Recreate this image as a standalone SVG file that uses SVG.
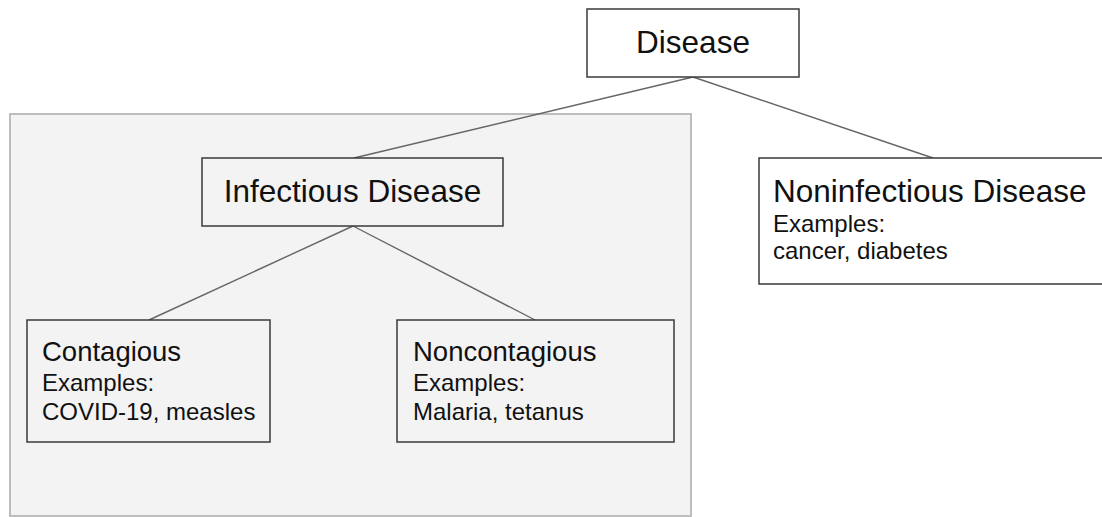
<svg xmlns="http://www.w3.org/2000/svg" width="1102" height="517" viewBox="0 0 1102 517">
<style>
.box{fill:none;stroke:#3a3a3a;stroke-width:1.5}
.wbox{fill:#ffffff;stroke:#3a3a3a;stroke-width:1.5}
.gbox{fill:#f3f3f3;stroke:#3a3a3a;stroke-width:1.5}
.conn{stroke:#666666;stroke-width:1.4;fill:none}
text{font-family:"Liberation Sans",Arial,sans-serif;fill:#111111}
.big{font-size:31.5px}
.mid{font-size:27.5px}
.small{font-size:24px}
</style>
<rect id="infectious-group" x="10" y="114" width="681" height="402" fill="#f3f3f3" stroke="#b7b7b7" stroke-width="1.8"/>
<g id="connectors">
<line class="conn" x1="693" y1="77" x2="354" y2="158"/>
<line class="conn" x1="693" y1="77" x2="933" y2="158"/>
<line class="conn" x1="353" y1="226" x2="149" y2="320"/>
<line class="conn" x1="353" y1="226" x2="535" y2="320"/>
</g>
<g id="disease">
<rect class="wbox" x="587" y="9" width="212" height="68"/>
<text class="big" x="693" y="53" text-anchor="middle">Disease</text>
</g>
<g id="infectious">
<rect class="gbox" x="202" y="158" width="301" height="68"/>
<text class="big" x="352.5" y="202" text-anchor="middle">Infectious Disease</text>
</g>
<g id="noninfectious">
<rect class="wbox" x="759" y="158" width="350" height="126"/>
<text class="big" x="773" y="202">Noninfectious Disease</text>
<text class="small" x="773" y="232">Examples:</text>
<text class="small" x="773" y="259">cancer, diabetes</text>
</g>
<g id="contagious">
<rect class="gbox" x="27" y="320" width="243" height="122"/>
<text class="mid" x="42" y="361">Contagious</text>
<text class="small" x="42" y="391">Examples:</text>
<text class="small" x="42" y="420">COVID-19, measles</text>
</g>
<g id="noncontagious">
<rect class="gbox" x="397" y="320" width="277" height="122"/>
<text class="mid" x="413" y="361">Noncontagious</text>
<text class="small" x="413" y="391">Examples:</text>
<text class="small" x="413" y="420">Malaria, tetanus</text>
</g>
</svg>
